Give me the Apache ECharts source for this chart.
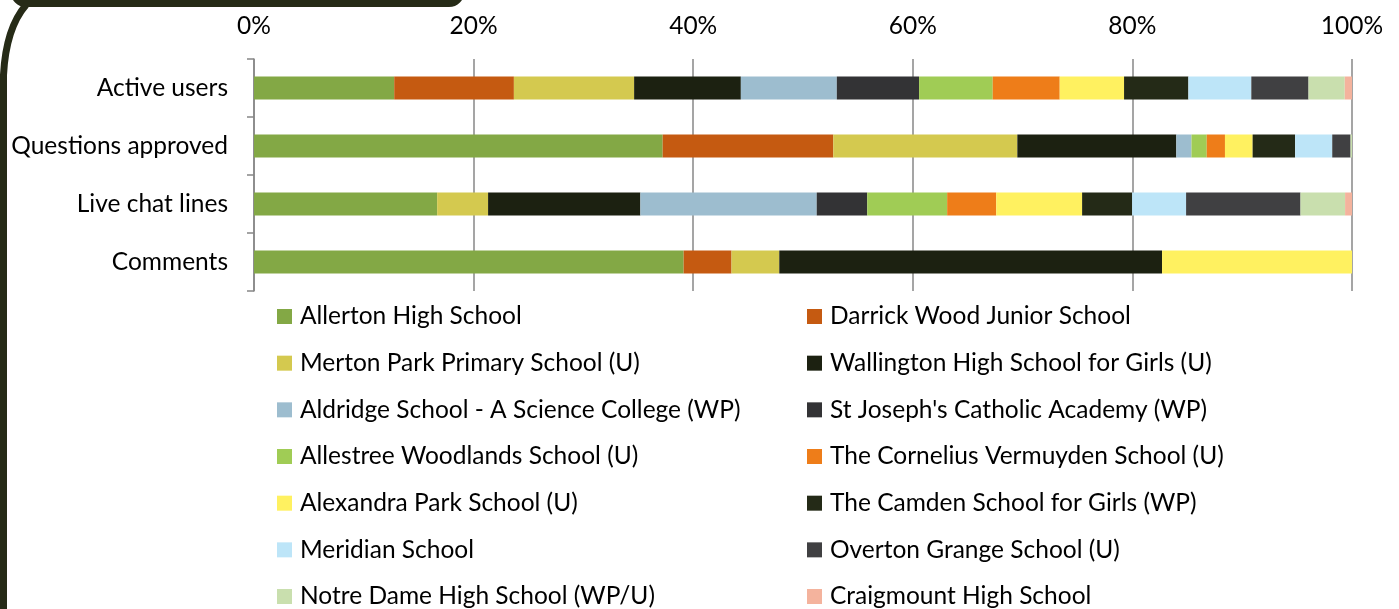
<!DOCTYPE html>
<html>
<head>
<meta charset="utf-8">
<script src="https://cdn.jsdelivr.net/npm/echarts@6/dist/echarts.min.js"></script>
<style>
html,body{margin:0;padding:0;background:#fff;}
#chart{width:1399px;height:609px;}
</style>
</head>
<body>
<div id="chart"></div>
<script>
// ---- data ----
var categories = ['Active users', 'Questions approved', 'Live chat lines', 'Comments'];
var schools = [
  'Allerton High School', 'Darrick Wood Junior School',
  'Merton Park Primary School (U)', 'Wallington High School for Girls (U)',
  'Aldridge School - A Science College (WP)', "St Joseph's Catholic Academy (WP)",
  'Allestree Woodlands School (U)', 'The Cornelius Vermuyden School (U)',
  'Alexandra Park School (U)', 'The Camden School for Girls (WP)',
  'Meridian School', 'Overton Grange School (U)',
  'Notre Dame High School (WP/U)', 'Craigmount High School'
];
// share (%) of each school, in the order of "schools"
var activeUsers       = [12.77, 10.90, 10.95, 9.72, 8.74, 7.49, 6.71, 6.10, 5.86, 5.86, 5.73, 5.21, 3.30, 0.66];
var questionsApproved = [37.22, 15.54, 16.76, 14.48, 1.38, 0, 1.39, 1.66, 2.52, 3.87, 3.38, 1.67, 0.13, 0];
var liveChatLines     = [16.68, 0, 4.64, 13.87, 16.06, 4.60, 7.28, 4.47, 7.82, 4.55, 4.92, 10.42, 4.06, 0.63];
var comments          = [39.13, 4.36, 4.35, 34.86, 0, 0, 0, 0, 17.30, 0, 0, 0, 0, 0];
var tickValues = [0, 20, 40, 60, 80, 100];

// ---- styles ----
var palette = ['#83A845', '#C55A11', '#D4C94F', '#1C2111', '#9DBDCF', '#333335', '#A0CC55',
               '#EE7D19', '#FFF160', '#242A17', '#BDE5F8', '#404042', '#C9DFAE', '#F4B39D'];
var FONT = 'Lato';
var FS = 24.5;

var metricRows = [activeUsers, questionsApproved, liveChatLines, comments];

var series = schools.map(function (name, i) {
  return {
    name: name,
    type: 'bar',
    stack: 'total',
    barWidth: 23,
    itemStyle: { color: palette[i] },
    emphasis: { disabled: true },
    data: metricRows.map(function (row) { return row[i]; })
  };
});

// legend: two columns (even / odd entries), one legend block per entry
var ROW_PITCH = 46.67;
var LEG_TOP = 304;
var COL_LEFT = [277, 807];

var legends = schools.map(function (name, i) {
  return {
    orient: 'horizontal',
    padding: 0,
    icon: 'rect',
    itemWidth: 15,
    itemHeight: 15,
    selectedMode: false,
    left: COL_LEFT[i % 2],
    top: LEG_TOP + Math.floor(i / 2) * ROW_PITCH,
    data: [name],
    textStyle: { fontFamily: FONT, fontSize: FS, color: '#000', padding: [0, 0, 0, 3] }
  };
});

var chart = echarts.init(document.getElementById('chart'), null, { renderer: 'canvas' });
chart.setOption({
  animation: false,
  color: palette,
  textStyle: { fontFamily: FONT },
  grid: { left: 254, right: 47, top: 59, height: 232, containLabel: false },
  xAxis: {
    type: 'value',
    position: 'top',
    min: tickValues[0],
    max: tickValues[tickValues.length - 1],
    interval: tickValues[1] - tickValues[0],
    axisLine: { show: false },
    axisTick: { show: false },
    axisLabel: { formatter: '{value}%', fontFamily: FONT, fontSize: FS, color: '#000', margin: 20 },
    splitLine: { show: true, lineStyle: { color: '#878787', width: 1.5 } }
  },
  yAxis: {
    type: 'category',
    inverse: true,
    data: categories,
    axisLine: { show: true, lineStyle: { color: '#878787', width: 1.5 } },
    axisTick: { show: true, length: 7, lineStyle: { color: '#878787', width: 1.5 } },
    axisLabel: { fontFamily: FONT, fontSize: FS, color: '#000', margin: 26 }
  },
  legend: legends,
  graphic: [
    {
      type: 'rect',
      shape: { x: 14, y: -60, width: 447, height: 63.5, r: 12 },
      style: { fill: 'none', stroke: '#262B17', lineWidth: 7 },
      silent: true
    },
    {
      type: 'bezierCurve',
      shape: { x1: 26, y1: 5, cpx1: 6, cpy1: 28, x2: 3.5, y2: 75 },
      style: { fill: 'none', stroke: '#262B17', lineWidth: 7 },
      silent: true
    },
    {
      type: 'line',
      shape: { x1: 3.5, y1: 74, x2: 3.5, y2: 620 },
      style: { stroke: '#262B17', lineWidth: 7 },
      silent: true
    }
  ],
  series: series
});
</script>
</body>
</html>
